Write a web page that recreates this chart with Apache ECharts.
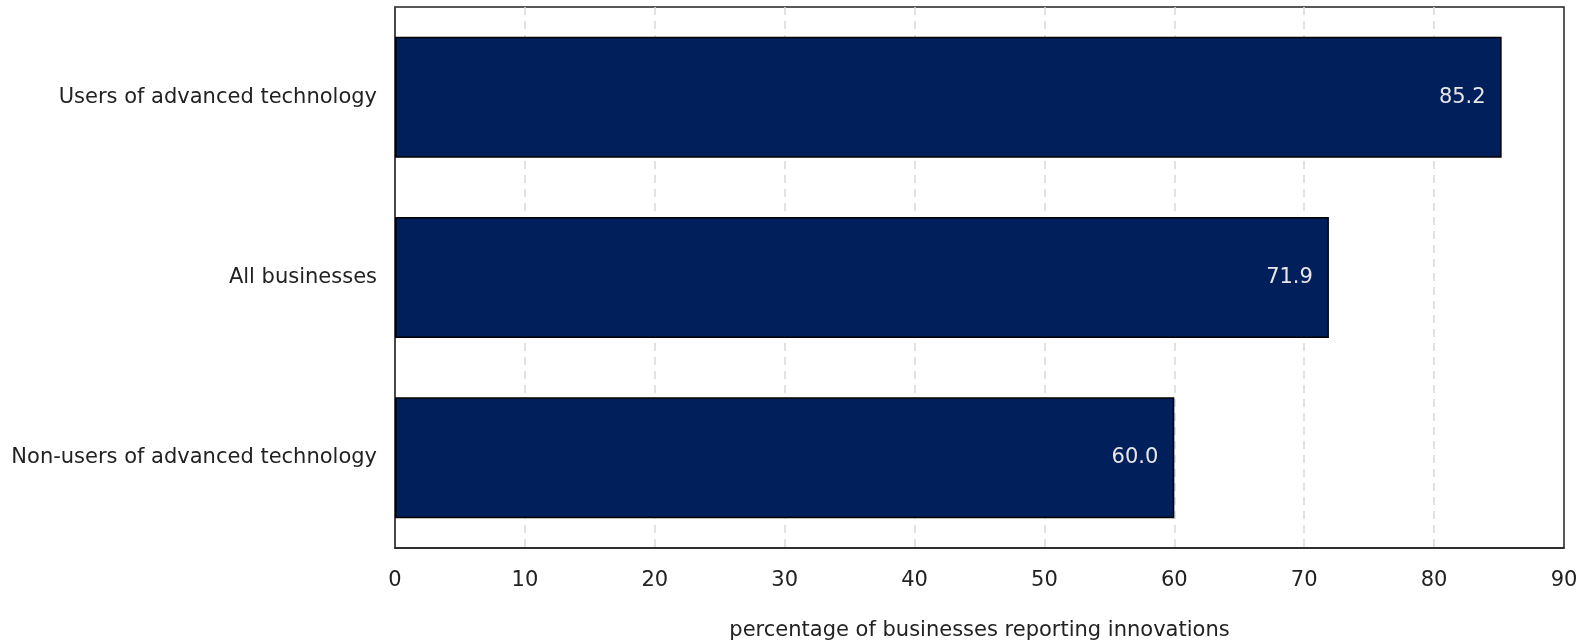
<!DOCTYPE html>
<html><head><meta charset="utf-8">
<script src="https://cdn.jsdelivr.net/npm/echarts@6/dist/echarts.min.js"></script>
<style>html,body{margin:0;padding:0;background:#fff}#c{width:1577px;height:640px}</style>
</head><body><div id="c"></div>
<script>
const categories = ["Users of advanced technology", "All businesses", "Non-users of advanced technology"];
const values = [85.2, 71.9, 60.0];
const xTicks = [0, 10, 20, 30, 40, 50, 60, 70, 80, 90];
const axisTitle = "percentage of businesses reporting innovations";

const chart = echarts.init(document.getElementById('c'));
const font = '"DejaVu Sans", Verdana, sans-serif';
chart.setOption({
  animation: false,
  textStyle: {fontFamily: font},
  grid: {left: 395, right: 13, top: 7, bottom: 92, outerBoundsMode: 'none', containLabel: false,
    show: true, borderColor: '#222', borderWidth: 1.5, backgroundColor: 'transparent'},
  xAxis: {
    type: 'value', min: xTicks[0], max: xTicks[xTicks.length-1], interval: 10,
    name: axisTitle, nameLocation: 'middle', nameGap: 72,
    nameTextStyle: {fontSize: 21, color: '#222', fontFamily: font},
    axisLine: {show: true, lineStyle: {color: '#222', width: 1.5}},
    axisTick: {show: false},
    axisLabel: {fontSize: 21, color: '#222', margin: 22, fontFamily: font},
    splitLine: {show: true, showMinLine: false, showMaxLine: false, lineStyle: {color: '#d9d9d9', type: [8, 6], width: 1.5}}
  },
  yAxis: {
    type: 'category', data: categories, inverse: true,
    axisLine: {show: true, lineStyle: {color: '#444', width: 1.5}},
    axisTick: {show: false},
    axisLabel: {fontSize: 21, color: '#222', margin: 18, fontFamily: font},
    splitLine: {show: false}
  },
  series: [{
    type: 'bar', data: values, barWidth: 121,
    itemStyle: {color: '#001f5b', borderColor: '#000', borderWidth: 1.5},
    label: {show: true, position: 'insideRight', distance: 16, color: '#e6e6e6', fontSize: 21, fontFamily: font,
      formatter: p => p.value.toFixed(1)}
  }]
});
</script></body></html>
